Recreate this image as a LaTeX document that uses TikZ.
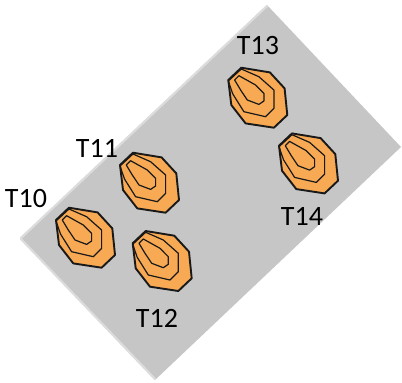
\documentclass[tikz,border=0pt]{standalone}
\usepackage{fontspec}
\setmainfont{Carlito}
\definecolor{boardgrey}{HTML}{C6C6C6}
\definecolor{edgegrey}{HTML}{DCDCDC}
\definecolor{padorange}{HTML}{F7A954}
\tikzset{
  x=1pt,y=-1pt,
  board/.style={fill=boardgrey,draw=none},
  boardedge/.style={draw=edgegrey,line width=2.2pt,line cap=round},
  padouter/.style={fill=padorange,draw=black!90,line width=1.9pt,line join=round},
  padinner/.style={draw=black!90,line width=1.2pt,line join=round},
  lbl/.style={inner sep=0pt,text=black,font=\fontsize{28}{28}\selectfont},
  pad/.pic={
    \draw[padouter] (0,0)--(13,-12.3)--(41.6,-7.6)--(56.3,8.4)--(59,35)--(45.6,47.7)--(17.3,43.4)--(3,25)--cycle;
    \draw[padinner] (0,1)--(4.5,14)--(15.6,31.7)--(37.3,36.7)--(45.6,28.4)--(45.6,10)--(30.6,-3.3)--(13,-11)--cycle;
    \draw[padinner] (6.3,0)--(10.6,-4.3)--(27.3,5)--(35.6,13.4)--(35.6,21)--(30.6,24.4)--(19,20)--(12.3,10)--cycle;
  }
}
\begin{document}
\begin{tikzpicture}
\useasboundingbox (0,0) rectangle (402,383);
\fill[board] (267,5)--(401,147)--(155,380)--(20,238)--cycle;
\draw[boardedge] (21,238)--(267,6);
\draw[boardedge] (21,239)--(155,379);
\pic at (56,220) {pad};
\pic at (120,165) {pad};
\pic at (132.7,243.3) {pad};
\pic at (228.3,80) {pad};
\pic at (279,145.7) {pad};
\node[lbl] (t10) at (26,199) {T10};
\node[lbl] (t11) at (97,148) {T11};
\node[lbl] (t12) at (157,318) {T12};
\node[lbl] (t13) at (258,46) {T13};
\node[lbl] (t14) at (302,216) {T14};
\end{tikzpicture}
\end{document}
